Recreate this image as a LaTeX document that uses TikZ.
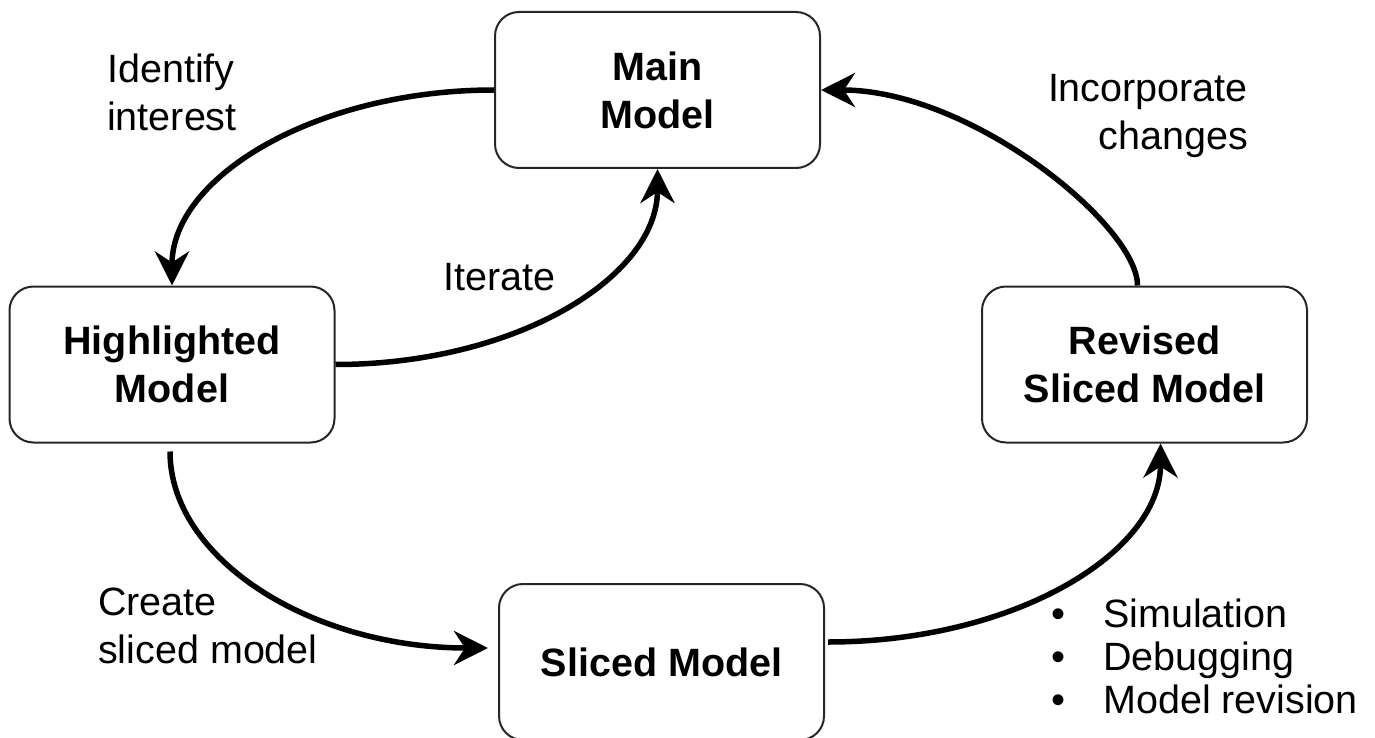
\documentclass[tikz,border=0pt]{standalone}
\usepackage{fontspec}
\setmainfont{Liberation Sans}
\usetikzlibrary{arrows.meta,calc}
\begin{document}
\begin{tikzpicture}[x=1pt,y=-1pt,
 box/.style={draw=black!85, line width=2pt, rounded corners=24pt, minimum width=325pt, minimum height=156pt, inner sep=0pt, align=center, font=\fontsize{39.5}{48}\selectfont\bfseries},
 lbl/.style={inner sep=0pt, font=\fontsize{39.5}{48}\selectfont},
 flow/.style={line width=5.5pt, -{Stealth[length=34pt,width=34pt,inset=11pt]}},
]
\useasboundingbox (0,0) rectangle (1375,738);
\node[box] (Main) at (657.5,90) {Main\\Model};
\node[box] (Hi) at (172,364.5) {Highlighted\\Model};
\node[box] (Rev) at (1144.5,364.5) {Revised\\Sliced Model};
\node[box] (Sl) at (661.5,662) {Sliced Model};

\node[lbl, anchor=north west, align=left] (lid) at (107,54) {Identify\\interest};
\node[lbl, anchor=base west] (lit) at (443,290) {Iterate};
\node[lbl, anchor=north east, align=right] (linc) at (1248,74) {Incorporate\\changes};
\node[lbl, anchor=north west, align=left] (lcr) at (98,588) {Create\\sliced model};
\node[lbl, anchor=north west, align=left, font=\fontsize{39.5}{43}\selectfont] (list) at (1051,599)
 {\makebox[52pt][l]{\fontsize{40}{40}\selectfont\textbullet}Simulation\\
  \makebox[52pt][l]{\fontsize{40}{40}\selectfont\textbullet}Debugging\\
  \makebox[52pt][l]{\fontsize{40}{40}\selectfont\textbullet}Model revision};

\draw[flow] (Main.west) .. controls +(-177,0) and +(0,-109) .. (Hi.north);
\draw[flow] (Hi.east) .. controls +(179,0) and +(0,109) .. (Main.south);
\draw[flow] ($(Rev.north)+(-7,0)$) .. controls +(0,-60) and +(150,0) .. (Main.east);
\draw[flow] ($(Hi.south)+(-2,8)$) .. controls +(0,108) and +(-176,0) .. ($(Sl.west)+(-10,-14)$);
\draw[flow] ($(Sl.east)+(3,-20)$) .. controls +(185,0) and +(0,110) .. ($(Rev.south)+(16,0)$);
\end{tikzpicture}
\end{document}
